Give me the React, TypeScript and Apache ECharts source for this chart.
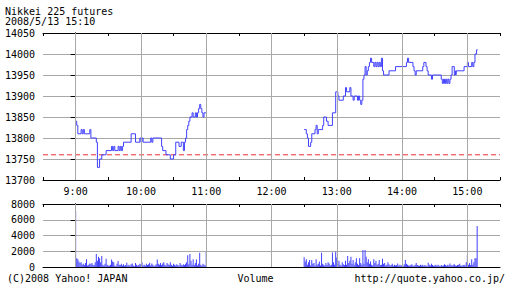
import React, { useEffect, useRef } from 'react';
import * as echarts from 'echarts';

const titleText = 'Nikkei 225 futures';
const stampText = '2008/5/13 15:10';
const copyText = '(C)2008 Yahoo! JAPAN';
const volumeText = 'Volume';
const urlText = 'http://quote.yahoo.co.jp/';

// x values are minutes from 9:00
const hourTicks = [0, 60, 120, 180, 240, 300, 360];
const hourLabels = ['9:00', '10:00', '11:00', '12:00', '13:00', '14:00', '15:00'];
const prevClose = 13760;

const amTimes = [0, 1, 2, 5, 6, 7, 8, 13, 14, 19, 20, 22, 24, 28, 33, 34, 35, 36, 39, 40, 41, 42, 43, 44, 51, 55, 59, 60, 61, 62, 69, 70, 71, 79, 80, 83, 87, 90, 92, 95, 97, 99, 100, 101, 102, 103, 104, 105, 107, 108, 110, 111, 112, 113, 114, 115, 116, 117, 118, 120];
const amPrices = [13840, 13830, 13810, 13820, 13810, 13820, 13810, 13820, 13800, 13790, 13730, 13750, 13760, 13770, 13780, 13770, 13780, 13770, 13780, 13770, 13780, 13770, 13780, 13790, 13810, 13790, 13800, 13790, 13800, 13790, 13800, 13790, 13800, 13780, 13770, 13760, 13750, 13760, 13790, 13780, 13790, 13770, 13790, 13800, 13820, 13830, 13840, 13850, 13860, 13850, 13860, 13850, 13860, 13870, 13880, 13870, 13860, 13850, 13860, 13860];

const pmTimes = [210, 212, 213, 214, 216, 217, 220, 221, 222, 223, 227, 228, 230.5, 232, 236, 239, 241, 242, 246, 248, 249, 252, 253, 255, 256, 259, 260, 261, 262, 263, 264, 265, 266, 267, 268, 269, 270, 271, 272, 274, 275, 276, 277, 278, 279, 280, 281, 282, 283, 288, 294, 304, 305, 306, 310, 311, 312, 313, 319, 320, 322, 323, 324, 327, 328, 336, 337, 338, 339, 340, 341, 342, 343, 344, 345, 346, 348, 349, 349.5, 350, 357, 360, 361, 364, 365, 366, 367, 368.5, 369.5];
const pmPrices = [13820, 13810, 13800, 13780, 13790, 13810, 13820, 13830, 13810, 13820, 13830, 13850, 13840, 13830, 13860, 13910, 13900, 13890, 13900, 13920, 13910, 13920, 13900, 13890, 13900, 13890, 13900, 13890, 13880, 13890, 13940, 13950, 13970, 13950, 13960, 13970, 13980, 13990, 13980, 13970, 13980, 13970, 13980, 13970, 13980, 13970, 13990, 13960, 13950, 13960, 13970, 13980, 13990, 13980, 13970, 13960, 13950, 13960, 13970, 13980, 13970, 13960, 13950, 13940, 13950, 13940, 13930, 13940, 13930, 13940, 13930, 13940, 13930, 13940, 13950, 13970, 13950, 13960, 13950, 13960, 13970, 13980, 13970, 13980, 13970, 13980, 14000, 14010, 14010];

const amVolStart = 0;
const amVolumes = [7100, 1100, 1000, 700, 500, 600, 300, 400, 250, 500, 1000, 200, 300, 450, 350, 500, 300, 250, 600, 1650, 800, 1300, 1100, 600, 1400, 300, 200, 400, 1050, 300, 200, 150, 300, 950, 700, 600, 200, 100, 400, 750, 300, 250, 400, 200, 350, 150, 250, 550, 200, 300, 150, 350, 450, 200, 100, 500, 300, 150, 250, 400, 350, 600, 200, 300, 150, 400, 250, 350, 550, 200, 450, 300, 150, 200, 350, 950, 400, 300, 500, 250, 450, 600, 300, 200, 500, 350, 250, 600, 300, 150, 400, 300, 200, 350, 250, 150, 500, 300, 200, 350, 250, 400, 600, 1500, 350, 1650, 800, 300, 1000, 250, 500, 950, 200, 400, 1800, 300, 150, 400, 300, 200, 1900];
const pmVolStart = 210;
const pmVolumes = [1250, 700, 1000, 300, 600, 900, 200, 900, 400, 500, 200, 1000, 300, 400, 700, 200, 1800, 400, 300, 200, 500, 250, 600, 450, 200, 300, 1850, 600, 300, 1950, 1200, 400, 800, 300, 200, 600, 350, 250, 800, 300, 1400, 500, 800, 1300, 400, 900, 300, 600, 1100, 400, 250, 1100, 500, 300, 2150, 400, 2150, 1300, 600, 1000, 400, 700, 300, 200, 1000, 500, 800, 300, 400, 900, 250, 300, 1050, 400, 500, 200, 300, 600, 350, 200, 250, 400, 150, 300, 200, 250, 450, 150, 300, 200, 250, 150, 350, 900, 400, 300, 200, 150, 250, 350, 200, 150, 300, 500, 250, 200, 150, 300, 200, 300, 150, 250, 200, 100, 550, 300, 200, 400, 250, 150, 200, 300, 150, 300, 200, 100, 250, 150, 200, 350, 250, 150, 300, 200, 450, 250, 150, 300, 350, 200, 150, 250, 300, 400, 200, 150, 250, 300, 200, 600, 1450, 300, 500, 250, 1000, 300, 600, 1100, 1100, 5200];

const FONT_FAMILY = '"DejaVu Sans Mono", monospace';
const FONT = '10px "DejaVu Sans Mono", monospace';
const LINE_BLUE = '#4040ff';
const GRID_GREY = '#a8a8a8';
const PREV_RED = '#f03030';

export default function App() {
  const ref = useRef<HTMLDivElement>(null);

  useEffect(() => {
    if (!ref.current) return;
    const chart = echarts.init(ref.current, null, { renderer: 'svg' });

    const amData = amTimes.map((t, i) => [t, amPrices[i]]);
    const pmData = pmTimes.map((t, i) => [t, pmPrices[i]]);
    const volData = [
      ...amVolumes.map((v, i) => [amVolStart + i, v]),
      ...pmVolumes.map((v, i) => [pmVolStart + i, v]),
    ];
    const xMin = -30;
    const xMax = 390;
    const prevData = [[xMin, prevClose], [xMax, prevClose]];

    const xBase: any = {
      type: 'value',
      min: xMin,
      max: xMax,
      interval: 30,
      splitLine: { show: false },
      axisLine: { show: true, onZero: false, lineStyle: { color: '#000', width: 1 } },
      axisTick: { show: true, inside: true, length: 3, lineStyle: { color: '#000' } },
      axisLabel: { show: false },
    };
    const hourFormatter = (v: number) => {
      const i = hourTicks.indexOf(v);
      return i >= 0 ? hourLabels[i] : '';
    };
    const plainFormatter = (v: number) => String(v);
    const labelStyle = { fontFamily: FONT_FAMILY, fontSize: 10, color: '#000' };

    const hourLines = hourTicks.map((h) => ({ xAxis: h }));
    const markBase = {
      silent: true,
      symbol: ['none', 'none'],
      label: { show: false },
      emphasis: { disabled: true },
      animation: false,
    };

    chart.setOption({
      animation: false,
      backgroundColor: '#fff',
      grid: [
        { left: 43, right: 12, top: 33, height: 147 },
        { left: 43, right: 12, top: 204, height: 63 },
      ],
      xAxis: [
        { ...xBase, gridIndex: 0, position: 'bottom', axisLabel: { show: true, formatter: hourFormatter, margin: 6, ...labelStyle } },
        { ...xBase, gridIndex: 0, position: 'top' },
        { ...xBase, gridIndex: 1, position: 'bottom', axisTick: { show: false } },
        { ...xBase, gridIndex: 1, position: 'top' },
      ],
      yAxis: [
        {
          gridIndex: 0, type: 'value', min: 13700, max: 14050, interval: 50, position: 'left',
          axisLine: { show: true, lineStyle: { color: '#000', width: 1 } },
          axisTick: { show: true, inside: false, length: 5, lineStyle: { color: '#000' } },
          axisLabel: { show: true, margin: 8, formatter: plainFormatter, ...labelStyle },
          splitLine: { show: true, lineStyle: { color: GRID_GREY, width: 1 } },
        },
        {
          gridIndex: 0, type: 'value', min: 13700, max: 14050, interval: 50, position: 'right',
          axisLine: { show: true, lineStyle: { color: '#000', width: 1 } },
          axisTick: { show: true, inside: true, length: 4, lineStyle: { color: '#000' } },
          axisLabel: { show: false },
          splitLine: { show: false },
        },
        {
          gridIndex: 1, type: 'value', min: 0, max: 8000, interval: 2000, position: 'left',
          axisLine: { show: true, lineStyle: { color: '#000', width: 1 } },
          axisTick: { show: true, inside: false, length: 5, lineStyle: { color: '#000' } },
          axisLabel: { show: true, margin: 8, formatter: plainFormatter, ...labelStyle },
          splitLine: { show: true, lineStyle: { color: GRID_GREY, width: 1 } },
        },
        {
          gridIndex: 1, type: 'value', min: 0, max: 8000, interval: 2000, position: 'right',
          axisLine: { show: true, lineStyle: { color: '#000', width: 1 } },
          axisTick: { show: true, inside: true, length: 4, lineStyle: { color: '#000' } },
          axisLabel: { show: false },
          splitLine: { show: false },
        },
      ],
      series: [
        {
          type: 'line', xAxisIndex: 0, yAxisIndex: 0, data: [], silent: true, z: 1,
          markLine: { ...markBase, lineStyle: { color: GRID_GREY, width: 1, type: 'solid' }, data: hourLines },
        },
        {
          type: 'line', xAxisIndex: 2, yAxisIndex: 2, data: [], silent: true, z: 1,
          markLine: { ...markBase, lineStyle: { color: GRID_GREY, width: 1, type: 'solid' }, data: hourLines },
        },
        {
          type: 'line', xAxisIndex: 0, yAxisIndex: 0, data: prevData, silent: true, z: 2,
          symbol: 'none', showSymbol: false,
          itemStyle: { color: PREV_RED },
          lineStyle: { color: PREV_RED, width: 1, type: [5, 3] },
        },
        {
          type: 'line', xAxisIndex: 0, yAxisIndex: 0, step: 'end', data: amData,
          symbol: 'none', showSymbol: false, z: 3, silent: true,
          itemStyle: { color: LINE_BLUE },
          lineStyle: { color: LINE_BLUE, width: 1 },
        },
        {
          type: 'line', xAxisIndex: 0, yAxisIndex: 0, step: 'end', data: pmData,
          symbol: 'none', showSymbol: false, z: 3, silent: true,
          itemStyle: { color: LINE_BLUE },
          lineStyle: { color: LINE_BLUE, width: 1 },
        },
        {
          type: 'bar', xAxisIndex: 2, yAxisIndex: 2, data: volData, barWidth: 1, z: 3, silent: true,
          itemStyle: { color: LINE_BLUE },
        },
      ],
      graphic: [
        { type: 'text', x: 5, y: 11, style: { text: titleText, font: FONT, fill: '#000', textAlign: 'left', textVerticalAlign: 'middle' } },
        { type: 'text', x: 5, y: 21, style: { text: stampText, font: FONT, fill: '#000', textAlign: 'left', textVerticalAlign: 'middle' } },
        { type: 'text', x: 7, y: 278, style: { text: copyText, font: FONT, fill: '#000', textAlign: 'left', textVerticalAlign: 'middle' } },
        { type: 'text', x: 255.5, y: 278, style: { text: volumeText, font: FONT, fill: '#000', textAlign: 'center', textVerticalAlign: 'middle' } },
        { type: 'text', x: 505, y: 278, style: { text: urlText, font: FONT, fill: '#000', textAlign: 'right', textVerticalAlign: 'middle' } },
      ],
    });

    return () => chart.dispose();
  }, []);

  return <div ref={ref} style={{ position: 'fixed', left: 0, top: 0, width: 512, height: 288 }} />;
}
